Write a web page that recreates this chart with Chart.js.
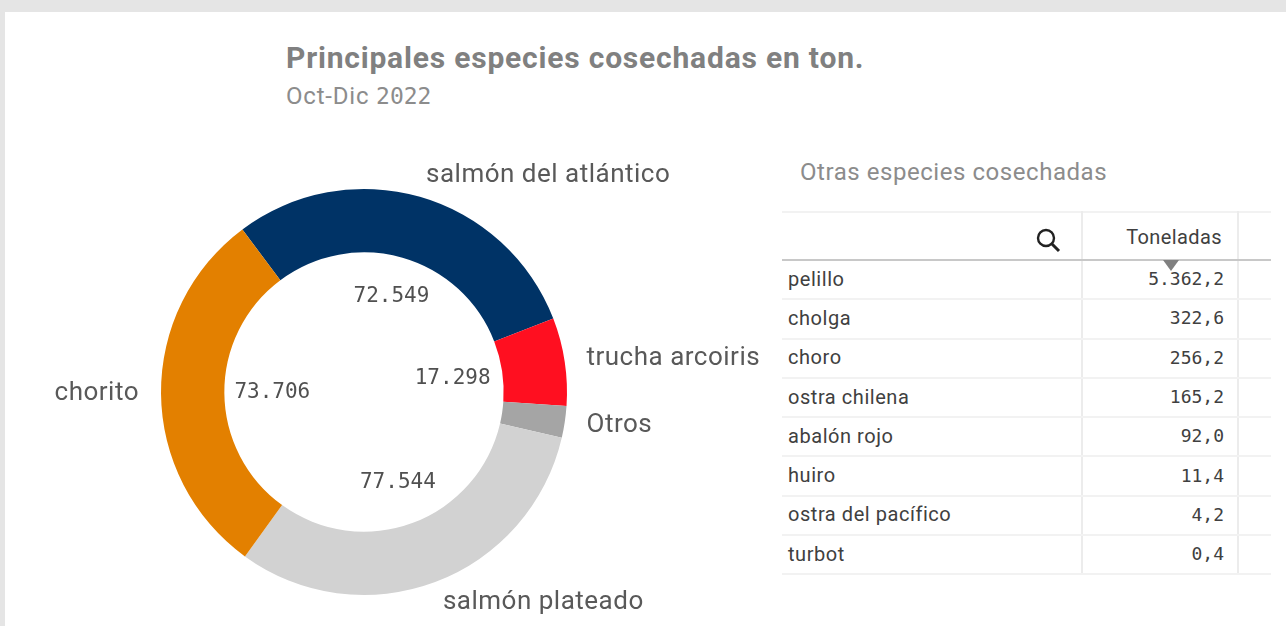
<!DOCTYPE html>
<html lang="es">
<head>
<meta charset="utf-8">
<title>Principales especies cosechadas</title>
<script src="https://cdn.jsdelivr.net/npm/chart.js@4"></script>
<style>
  html, body { margin: 0; height: 100%; overflow: hidden; background: #e5e5e5; }
  .panel { position: absolute; left: 5px; top: 12px; right: 0; bottom: 0; background: #fff; font-family: "Roboto", sans-serif; }
  .title { position: absolute; left: 281px; top: 28px; font-size: 30px; font-weight: 700; color: #808080; white-space: nowrap; letter-spacing: 0.8px; }
  .subtitle { position: absolute; left: 281px; top: 70px; font-size: 24px; color: #8c8c8c; white-space: nowrap; letter-spacing: 0.8px; }
  .subtitle span { font-family: "DejaVu Sans Mono", monospace; font-size: 23px; letter-spacing: 0; }
  .chart-box { position: absolute; left: 0; top: 148px; width: 775px; height: 464px; }
  .table-title { position: absolute; left: 795px; top: 146px; font-size: 24px; color: #8c8c8c; white-space: nowrap; letter-spacing: 0.55px; }
  table { position: absolute; left: 777px; top: 199px; width: 489px; border-collapse: collapse; table-layout: fixed; color: #404040; font-size: 20px; }
  th, td { padding: 0 14px 2px 6px; border-bottom: 2px solid #f2f2f2; border-right: 2px solid #ececec; box-sizing: border-box; height: 39.3px; white-space: nowrap; overflow: hidden; letter-spacing: 0.55px; }
  th { height: 48px; font-weight: 400; text-align: right; border-top: 2px solid #f2f2f2; border-bottom: 2px solid #c8c8c8; position: relative; padding-top: 2px; padding-bottom: 0; letter-spacing: 0.4px; }
  td.val { text-align: right; font-family: "DejaVu Sans Mono", monospace; font-size: 18px; padding-right: 13px; letter-spacing: 0; }
  th:last-child, td:last-child { border-right: 0; }
  th svg { position: absolute; right: 20px; top: 14px; }
  .sort { position: absolute; left: 1158px; top: 248px; width: 0; height: 0; border-left: 8px solid transparent; border-right: 8px solid transparent; border-top: 11px solid #808080; }
</style>
</head>
<body>
<div class="panel">
  <div class="title">Principales especies cosechadas en ton.</div>
  <div class="subtitle">Oct-Dic <span>2022</span></div>
  <div class="chart-box"><canvas id="species-donut"></canvas></div>
  <div class="table-title">Otras especies cosechadas</div>
  <table id="others-table">
    <colgroup><col style="width:300px"><col style="width:156px"><col style="width:33px"></colgroup>
    <thead>
      <tr>
        <th><svg width="26" height="26" viewBox="0 0 26 26"><circle cx="11" cy="11" r="8" fill="none" stroke="#222" stroke-width="2.4"/><line x1="17" y1="17" x2="24" y2="24" stroke="#222" stroke-width="3"/></svg></th>
        <th id="tons-head" style="padding-right:15px"></th>
        <th></th>
      </tr>
    </thead>
    <tbody></tbody>
  </table>
  <div class="sort"></div>
</div>

<script>
//Donut data
const speciesLabels = ["salmón del atlántico", "trucha arcoiris", "Otros", "salmón plateado", "chorito"];
const speciesValues = [72549, 17298, 6215, 77544, 73706];
const speciesColors = ["#003366", "#ff0f20", "#a5a5a5", "#d2d2d2", "#e38000"];
const valueLabels = ["72.549", "17.298", "", "77.544", "73.706"];

//Table data
const otherSpecies = ["pelillo", "cholga", "choro", "ostra chilena", "abalón rojo", "huiro", "ostra del pacífico", "turbot"];
const otherTons = ["5.362,2", "322,6", "256,2", "165,2", "92,0", "11,4", "4,2", "0,4"];
const tonsHeader = "Toneladas";

document.getElementById("tons-head").textContent = tonsHeader;
let tableBody = document.querySelector("#others-table tbody");
otherSpecies.forEach((name, i) => {
  let row = document.createElement("tr");
  let nameCell = document.createElement("td");
  nameCell.textContent = name;
  let valueCell = document.createElement("td");
  valueCell.className = "val";
  valueCell.textContent = otherTons[i];
  row.append(nameCell, valueCell, document.createElement("td"));
  tableBody.appendChild(row);
});

//Labels outside the ring and values in the hole
const ringLabels = {
  id: "ringLabels",
  afterDatasetsDraw: (chart) => {
    const {ctx} = chart;
    ctx.save();
    chart.getDatasetMeta(0).data.forEach((arc, i) => {
      const {x, y, startAngle, endAngle, innerRadius, outerRadius} = arc.getProps(["x", "y", "startAngle", "endAngle", "innerRadius", "outerRadius"], true);
      let mid = (startAngle + endAngle) / 2;
      let cos = Math.cos(mid);
      let sin = Math.sin(mid);

      ctx.font = "26px Roboto";
      ctx.letterSpacing = "0.5px";
      ctx.fillStyle = "#595959";
      ctx.textBaseline = "middle";
      ctx.textAlign = cos >= 0 ? "left" : "right";
      ctx.fillText(speciesLabels[i], x + cos * (outerRadius + 22), y + sin * (outerRadius + 22));

      if (valueLabels[i]) {
        let inset = sin < -0.9 ? 40 : (sin > 0.9 ? 43 : (cos > 0 ? 50 : 48));
        ctx.font = "21px 'DejaVu Sans Mono'";
        ctx.letterSpacing = "0px";
        ctx.textAlign = "center";
        ctx.fillStyle = "#505050";
        ctx.fillText(valueLabels[i], x + cos * (innerRadius - inset), y + sin * (innerRadius - inset));
      }
    });
    ctx.restore();
  }
};

new Chart(document.getElementById("species-donut"), {
  type: "doughnut",
  data: {
    labels: speciesLabels,
    datasets: [
      {
        data: speciesValues,
        backgroundColor: speciesColors,
        borderWidth: 0,
      }
    ]
  },
  plugins: [ringLabels],
  options: {
    responsive: true,
    maintainAspectRatio: false,
    animation: false,
    rotation: -36.8,
    cutout: "68.8%",
    layout: {
      padding: {left: 0, right: 57, top: 29, bottom: 29},
    },
    plugins: {
      legend: {
        display: false,
      },
      tooltip: {
        enabled: false,
      },
    },
  },
});
</script>
</body>
</html>
